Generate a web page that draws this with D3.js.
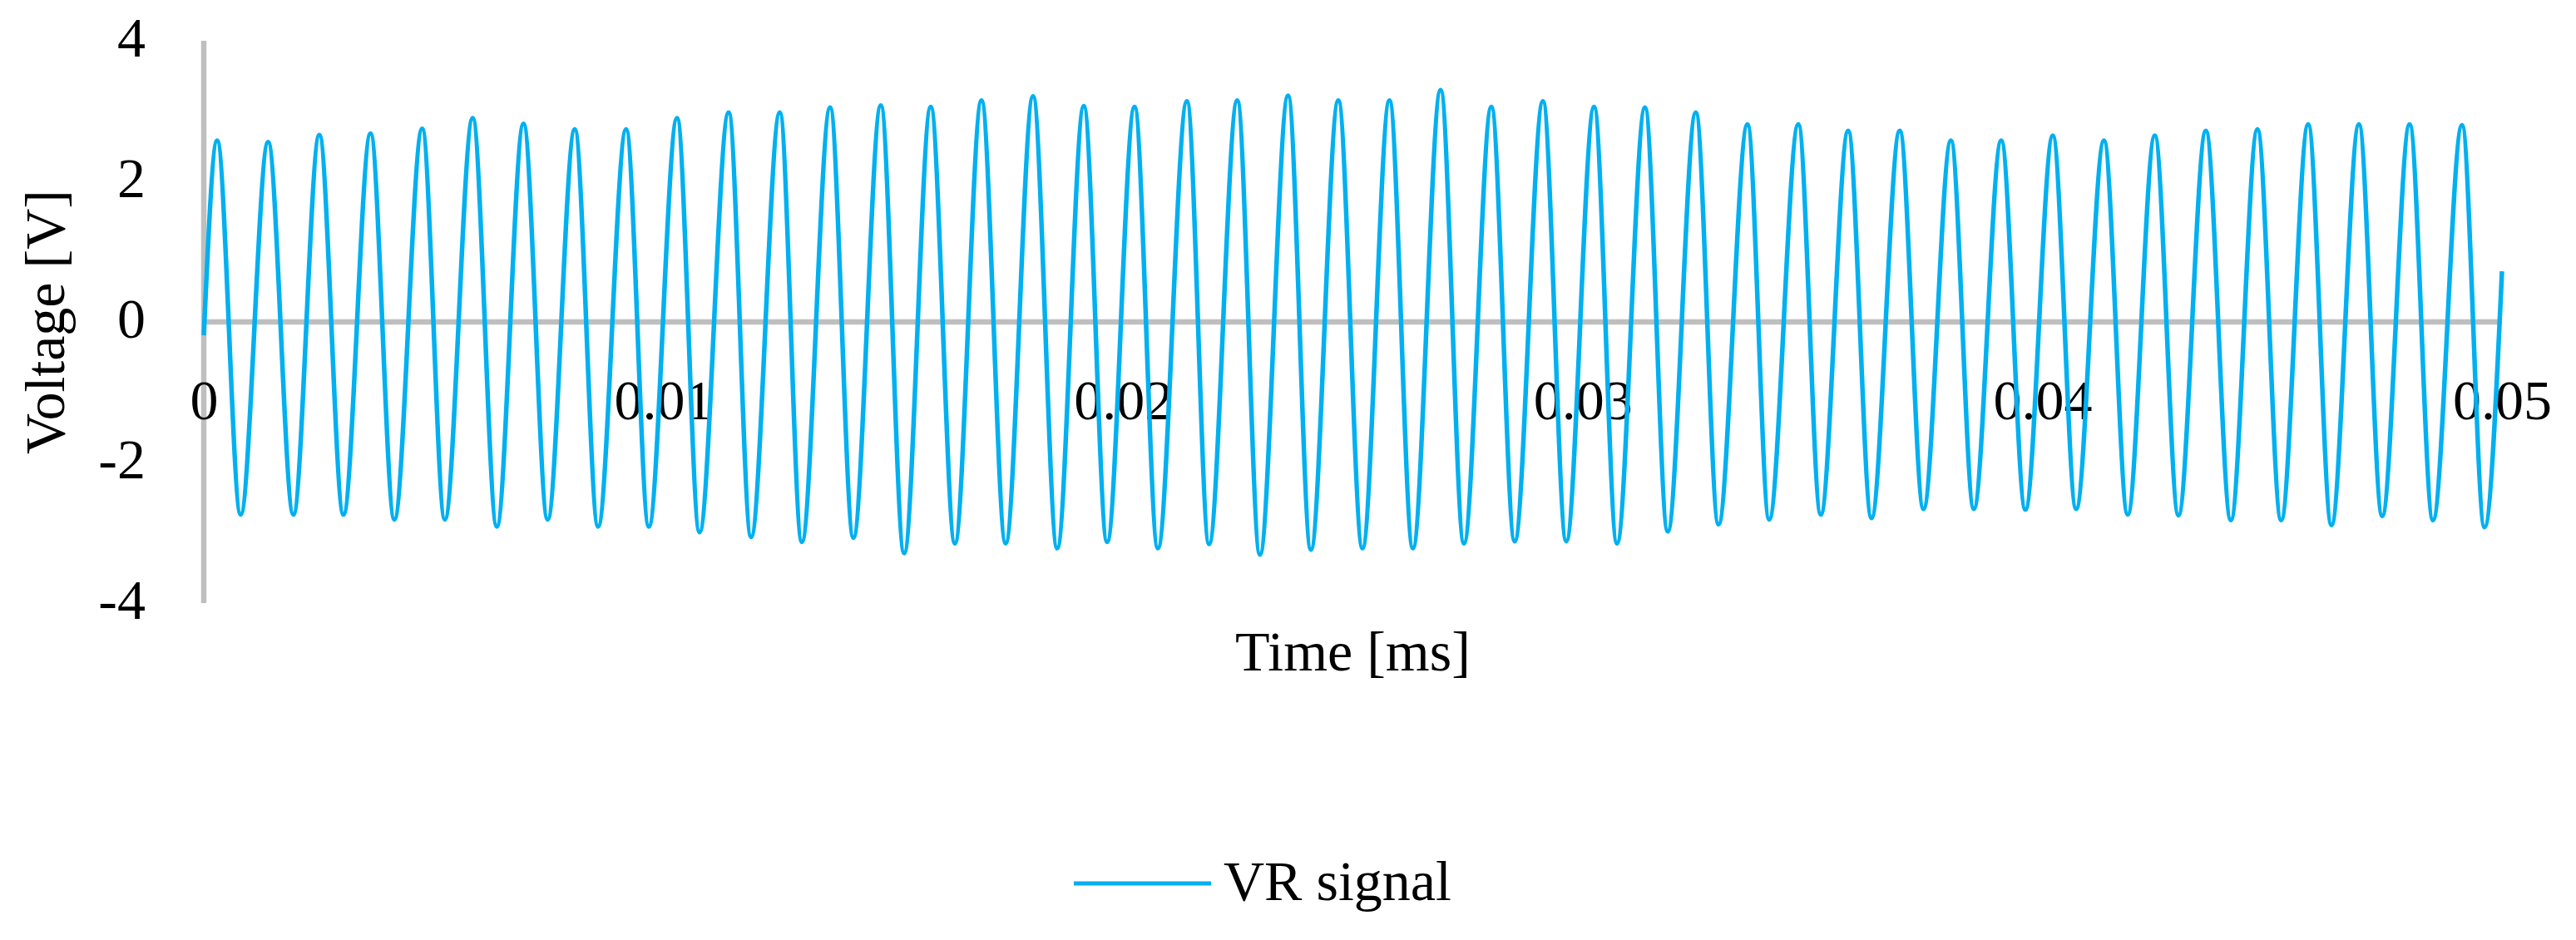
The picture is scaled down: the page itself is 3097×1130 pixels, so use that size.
<!DOCTYPE html>
<html>
<head>
<meta charset="utf-8">
<script src="https://cdn.jsdelivr.net/npm/d3@7"></script>
<style>
  html, body { margin: 0; padding: 0; background: #ffffff; }
  svg { display: block; }
  text { font-family: "Liberation Serif", "Times New Roman", serif; fill: #000; }
</style>
</head>
<body>
<svg id="chart" width="3097" height="1130"></svg>
<script>
// Time of each extremum (ms)
const times = [
  0, 0.000291, 0.000802, 0.001399, 0.001949, 0.002514, 0.003038, 0.003628, 0.004146, 0.004752,
  0.005244, 0.005851, 0.006375, 0.006956, 0.007481, 0.008071, 0.008578, 0.009188, 0.009682, 0.010297,
  0.010785, 0.011419, 0.011907, 0.012532, 0.013011, 0.013627, 0.014133, 0.014730, 0.015237, 0.015816,
  0.016341, 0.016920, 0.017445, 0.018042, 0.018567, 0.019146, 0.019653, 0.020250, 0.020757, 0.021390,
  0.021871, 0.022485, 0.022977, 0.023590, 0.024086, 0.024683, 0.025208, 0.025796, 0.026305, 0.026909,
  0.027416, 0.028013, 0.028520, 0.029135, 0.029642, 0.030248, 0.030746, 0.031355, 0.031850, 0.032461,
  0.032954, 0.033585, 0.034057, 0.034691, 0.035179, 0.035776, 0.036283, 0.036898, 0.037414, 0.038011,
  0.038509, 0.039106, 0.039631, 0.040228, 0.040735, 0.041341, 0.041857, 0.042447, 0.042961, 0.043558,
  0.044101, 0.044680, 0.045195, 0.045784, 0.046290, 0.046888, 0.047394, 0.047991, 0.048498, 0.049131,
  0.049620, 0.05
];
// VR signal voltage at each of those times (V)
const voltages = [
  -0.19, 2.58, -2.74, 2.56, -2.74, 2.66, -2.74, 2.68, -2.81, 2.75,
  -2.81, 2.90, -2.91, 2.82, -2.81, 2.74, -2.91, 2.74, -2.91, 2.90,
  -2.99, 2.98, -3.06, 2.98, -3.13, 3.05, -3.07, 3.08, -3.29, 3.06,
  -3.15, 3.15, -3.15, 3.21, -3.22, 3.07, -3.13, 3.06, -3.22, 3.14,
  -3.16, 3.15, -3.31, 3.22, -3.24, 3.15, -3.22, 3.15, -3.22, 3.30,
  -3.15, 3.06, -3.12, 3.14, -3.12, 3.06, -3.15, 3.05, -2.98, 2.98,
  -2.88, 2.81, -2.81, 2.81, -2.74, 2.72, -2.79, 2.72, -2.66, 2.58,
  -2.66, 2.58, -2.67, 2.65, -2.66, 2.58, -2.74, 2.65, -2.75, 2.72,
  -2.82, 2.74, -2.82, 2.81, -2.89, 2.81, -2.76, 2.81, -2.82, 2.80,
  -2.92, 0.72
];
const xTicks = [0, 0.01, 0.02, 0.03, 0.04, 0.05];
const xTickLabels = ["0", "0.01", "0.02", "0.03", "0.04", "0.05"];
const yTicks = [-4, -2, 0, 2, 4];
const yTickLabels = ["-4", "-2", "0", "2", "4"];
const seriesName = "VR signal";
const xTitle = "Time [ms]";
const yTitle = "Voltage [V]";

const svg = d3.select("#chart");
const x = d3.scaleLinear().domain([0, 0.05]).range([245, 3008]);
const y = d3.scaleLinear().domain([-4, 4]).range([725, 49]);

const axisColor = "#BFBFBF";
const lineColor = "#00B0F0";
const fs = 68;

// Y axis
const yAxis = d3.axisLeft(y).tickValues(yTicks).tickSize(0)
  .tickFormat((d, i) => yTickLabels[i]);
const gy = svg.append("g").attr("transform", `translate(${x(0)},0)`).call(yAxis);
gy.select(".domain").attr("stroke", axisColor).attr("stroke-width", 6.5).attr("d", `M0,${y(4)}V${y(-4)}`);
gy.selectAll(".tick text")
  .attr("x", -70).attr("dy", "0.27em")
  .style("font-size", fs + "px").style("font-family", "'Liberation Serif', serif")
  .attr("fill", "#000");

// X axis at zero
const xAxis = d3.axisBottom(x).tickValues(xTicks).tickSize(0)
  .tickFormat((d, i) => xTickLabels[i]);
const gx = svg.append("g").attr("transform", `translate(0,${y(0)})`).call(xAxis);
gx.select(".domain").attr("stroke", axisColor).attr("stroke-width", 6.5).attr("d", `M${x(0)},0H${x(0.05)}`);
gx.selectAll(".tick text")
  .attr("y", 117).attr("dy", 0)
  .style("font-size", fs + "px").style("font-family", "'Liberation Serif', serif")
  .attr("fill", "#000");

// Signal
const data = times.map((t, i) => ({ t, v: voltages[i] }));
const line = d3.line().x(d => x(d.t)).y(d => y(d.v)).curve(d3.curveMonotoneX);
svg.append("path").datum(data)
  .attr("fill", "none").attr("stroke", lineColor).attr("stroke-width", 5.5)
  .attr("stroke-linejoin", "round")
  .attr("d", line);

// Axis titles
svg.append("text")
  .attr("transform", `translate(77,${(y(4) + y(-4)) / 2}) rotate(-90)`)
  .attr("text-anchor", "middle")
  .style("font-size", fs + "px")
  .text(yTitle);

svg.append("text")
  .attr("x", (x(0) + x(0.05)) / 2).attr("y", 806)
  .attr("text-anchor", "middle")
  .style("font-size", fs + "px")
  .text(xTitle);

// Legend
svg.append("line")
  .attr("x1", 1291).attr("x2", 1456).attr("y1", 1062).attr("y2", 1062)
  .attr("stroke", lineColor).attr("stroke-width", 5);
svg.append("text")
  .attr("x", 1471).attr("y", 1082)
  .style("font-size", fs + "px")
  .text(seriesName);
</script>
</body>
</html>
